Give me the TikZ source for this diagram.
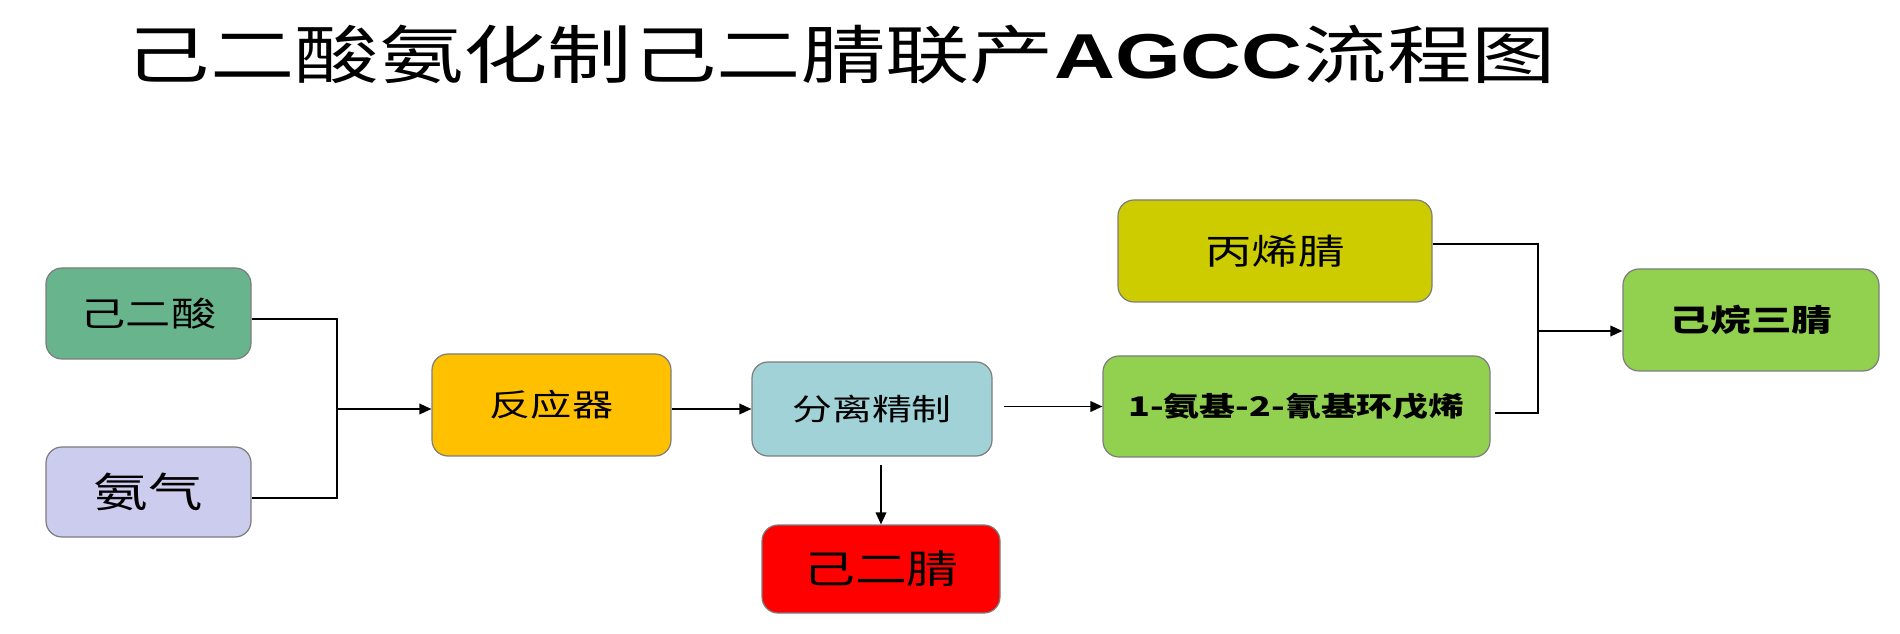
\documentclass[tikz,border=0pt]{standalone}
\usepackage{fontspec}
\usepackage{graphicx}
\newfontfamily\cjk{Noto Sans CJK SC}
\newfontfamily\arialf{Liberation Sans}
\usetikzlibrary{arrows.meta}
\definecolor{cAcid}{RGB}{104,180,140}
\definecolor{cNH}{RGB}{204,204,238}
\definecolor{cReac}{RGB}{255,192,0}
\definecolor{cSep}{RGB}{160,210,215}
\definecolor{cADN}{RGB}{255,0,0}
\definecolor{cGreen}{RGB}{146,208,80}
\definecolor{cACN}{RGB}{204,204,0}
\definecolor{boxgray}{RGB}{125,125,125}
\newcommand{\stx}[1]{\scalebox{1.33}[1]{#1}}
\begin{document}
\begin{tikzpicture}[x=0.75pt,y=-0.75pt,
  box/.style={draw=boxgray, line width=0.9pt, rounded corners=12pt, inner sep=0pt, align=center, text=black},
  arr/.style={line width=1.1pt, -{Triangle[length=9pt,width=8pt]}},
  ln/.style={line width=1.1pt}]
\useasboundingbox (0,0) rectangle (1900,634);
\fill[white] (0,0) rectangle (1900,634);

\node[font={\cjk\fontsize{47.6pt}{51pt}\selectfont}] (title) at (841,55)
  {\stx{己二酸氨化制己二腈联产{\arialf\bfseries AGCC}流程图}};

\node[box, fill=cAcid, minimum width=205*0.75pt, minimum height=91*0.75pt,
  font={\cjk\fontsize{25.5pt}{28pt}\selectfont}] (acid) at (148.5,313.5) {\stx{己二酸}};
\node[box, fill=cNH, minimum width=205*0.75pt, minimum height=90*0.75pt,
  font={\cjk\fontsize{30.75pt}{33pt}\selectfont}] (nh3) at (148.5,492) {\stx{氨气}};
\node[box, fill=cReac, minimum width=239*0.75pt, minimum height=102*0.75pt,
  font={\cjk\fontsize{23.25pt}{26pt}\selectfont}] (reactor) at (551.5,405) {\stx{反应器}};
\node[box, fill=cSep, minimum width=240*0.75pt, minimum height=94*0.75pt,
  font={\cjk\fontsize{22.5pt}{25pt}\selectfont}] (sep) at (872,409) {\stx{分离精制}};
\node[box, fill=cADN, minimum width=238*0.75pt, minimum height=88*0.75pt,
  font={\cjk\fontsize{29.25pt}{32pt}\selectfont}] (adn) at (881,569) {\stx{己二腈}};
\node[box, fill=cACN, minimum width=314*0.75pt, minimum height=102*0.75pt,
  font={\cjk\fontsize{26.25pt}{29pt}\selectfont}] (acn) at (1275,251) {\stx{丙烯腈}};
\node[box, fill=cGreen, minimum width=387*0.75pt, minimum height=101*0.75pt,
  font={\cjk\bfseries\fontsize{20.25pt}{23pt}\selectfont}] (amino) at (1296.5,406.5) {\stx{1-氨基-2-氰基环戊烯}};
\node[box, fill=cGreen, minimum width=256*0.75pt, minimum height=102*0.75pt,
  font={\cjk\bfseries\fontsize{22.9pt}{25pt}\selectfont}] (hta) at (1751,320) {\stx{己烷三腈}};

\coordinate (j1) at (337,409);
\draw[ln] ([yshift=-4.1pt]acid.east) -| (j1) |- ([yshift=-4.5pt]nh3.east);
\draw[arr] (j1) -- (reactor.west |- j1);
\draw[arr] (reactor.east |- sep.west) -- (sep.west);
\draw[arr] ([xshift=8.25pt]sep.east |- amino.west) -- (amino.west);
\draw[arr] ([yshift=-6pt]sep.south -| adn.north) -- (adn.north);

\coordinate (j2) at (1538,331);
\draw[ln] ([yshift=5.25pt]acn.east) -| (j2) |- ([xshift=3pt,yshift=-4.9pt]amino.east);
\draw[arr] (j2) -- (hta.west |- j2);
\end{tikzpicture}
\end{document}
